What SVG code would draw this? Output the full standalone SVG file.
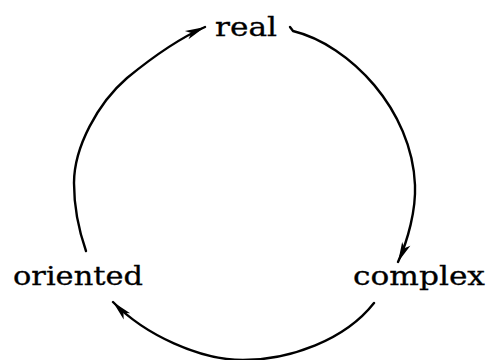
<svg xmlns="http://www.w3.org/2000/svg" width="491" height="360" viewBox="0 0 491 360">
  <style>
    .lbl { font-family: "DejaVu Serif", "Liberation Serif", serif; font-size: 26px; fill: #000; stroke: #000; stroke-width: 0.3; }
    .arc { fill: none; stroke: #000; stroke-width: 2.4; stroke-linecap: round; }
  </style>
  <defs>
    <marker id="ah" markerUnits="userSpaceOnUse" markerWidth="22" markerHeight="10" refX="20" refY="5" orient="auto" overflow="visible">
      <path d="M0,0.5 L20,5 L0,9.5 L5,5 Z" fill="#000"/>
    </marker>
  </defs>
  <rect width="491" height="360" fill="#fff"/>
  <g id="connectors">
    <path class="arc" d="M86,251 C78,228 74,205 74,183 C74,147 98,103 127,78 C155,55 180,38 205,27" marker-end="url(#ah)"/>
    <path class="arc" d="M290,27 L293,31 C350,45 412,110 415,185 C416,210 408,240 398,262" marker-end="url(#ah)"/>
    <path class="arc" d="M374,303 C345,340 290,360 243,360 C200,360 145,335 113,302" marker-end="url(#ah)"/>
  </g>
  <g id="real"><text class="lbl" x="215" y="36" textLength="62" lengthAdjust="spacingAndGlyphs">real</text></g>
  <g id="complex"><text class="lbl" x="353" y="285" textLength="132" lengthAdjust="spacingAndGlyphs">complex</text></g>
  <g id="oriented"><text class="lbl" x="13" y="285" textLength="130" lengthAdjust="spacingAndGlyphs">oriented</text></g>
</svg>
